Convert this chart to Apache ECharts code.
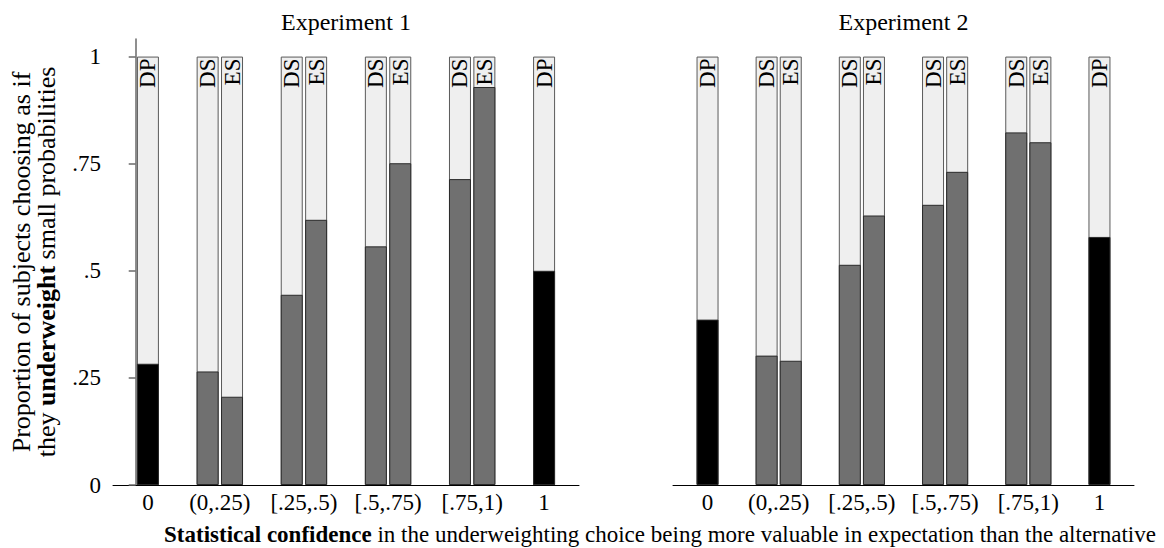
<!DOCTYPE html>
<html><head><meta charset="utf-8">
<script src="https://cdn.jsdelivr.net/npm/echarts@6/dist/echarts.min.js"></script>
<style>html,body{margin:0;padding:0;background:#fff}#c{width:1164px;height:548px}</style>
</head><body><div id="c"></div>
<script>
// ---- data ----
const categories = ['0', '(0,.25)', '[.25,.5)', '[.5,.75)', '[.75,1)', '1'];
const barCategory = [0, 1, 1, 2, 2, 3, 3, 4, 4, 5];
const barType = ['DP', 'DS', 'ES', 'DS', 'ES', 'DS', 'ES', 'DS', 'ES', 'DP'];
const exp1Values = [0.283, 0.265, 0.206, 0.444, 0.619, 0.557, 0.751, 0.714, 0.929, 0.500];
const exp2Values = [0.386, 0.302, 0.290, 0.514, 0.629, 0.654, 0.731, 0.823, 0.800, 0.579];
const totalShare = 1; // every bar is a share of all subjects (0..1)
const yTickValues = [0, 0.25, 0.5, 0.75, 1];
const yTickLabels = ['0', '.25', '.5', '.75', '1'];
const panelTitles = ['Experiment 1', 'Experiment 2'];
const yTitleLine1 = 'Proportion of subjects choosing as if';
const yTitleLine2 = ['they ', 'underweight', ' small probabilities'];
const xTitle = ['Statistical confidence', ' in the underweighting choice being more valuable in expectation than the alternative'];

// ---- layout helpers ----
const FONT = '"Liberation Serif", "Times New Roman", serif';
const SLOT = 0.145;
function barX(i) {
  const c = barCategory[i], t = barType[i];
  const side = t === 'DS' ? -1 : t === 'ES' ? 1 : (c === 0 ? 1 : -1);
  return c + side * SLOT;
}
const labelPos = categories.map((c, i) => i === 0 ? SLOT : (i === categories.length - 1 ? i - SLOT : i));

function xAxisFor(gi) {
  return {
    type: 'value', gridIndex: gi, min: -0.27, max: 5.27,
    axisLine: { show: true, onZero: false, lineStyle: { color: '#000', width: 1 } },
    axisTick: { show: false }, splitLine: { show: false },
    axisLabel: {
      customValues: labelPos,
      formatter: v => { const k = labelPos.findIndex(p => Math.abs(p - v) < 1e-6); return k >= 0 ? categories[k] : ''; },
      fontFamily: FONT, fontSize: 23, color: '#000', margin: 6
    }
  };
}
function yAxisFor(gi) {
  const shown = gi === 0;
  return {
    type: 'value', gridIndex: gi, min: 0, max: 1.041,
    axisLine: { show: shown, lineStyle: { color: '#6a6a6a', width: 1.5 } },
    axisTick: { show: shown, length: 7, customValues: yTickValues, lineStyle: { color: '#6a6a6a', width: 1.5 } },
    splitLine: { show: false },
    axisLabel: {
      show: shown, customValues: yTickValues,
      formatter: v => { const k = yTickValues.findIndex(p => Math.abs(p - v) < 1e-6); return k >= 0 ? yTickLabels[k] : ''; },
      fontFamily: FONT, fontSize: 23, color: '#000', margin: 12
    }
  };
}
function panelSeries(values, gi) {
  const full = values.map((v, i) => ({ value: [barX(i), totalShare] }));
  const dark = values.map((v, i) => ({ value: [barX(i), v], itemStyle: { color: barType[i] === 'DP' ? '#000' : '#707070' } }));
  return [
    { type: 'bar', xAxisIndex: gi, yAxisIndex: gi, barWidth: 22, barGap: '-100%', data: full, z: 2,
      itemStyle: { color: '#efefef', borderColor: '#5a5a5a', borderWidth: 1 }, silent: true,
      label: { show: true, position: 'insideTop', rotate: 90, align: 'right', verticalAlign: 'middle', distance: 2,
        formatter: p => barType[p.dataIndex], fontFamily: FONT, fontSize: 23, color: '#000' } },
    { type: 'bar', xAxisIndex: gi, yAxisIndex: gi, barWidth: 22, barGap: '-100%', data: dark, z: 3,
      itemStyle: { borderColor: '#2a2a2a', borderWidth: 1 }, silent: true }
  ];
}

const grids = [
  { left: 113, width: 466, top: 39, bottom: 63 },
  { left: 673, width: 461, top: 39, bottom: 63 }
];

const chart = echarts.init(document.getElementById('c'), null, { renderer: 'svg' });
chart.setOption({
  animation: false,
  grid: grids,
  xAxis: [xAxisFor(0), xAxisFor(1)],
  yAxis: [yAxisFor(0), yAxisFor(1)],
  series: [...panelSeries(exp1Values, 0), ...panelSeries(exp2Values, 1)],
  graphic: [
    { type: 'text', x: 346, y: 21.5, style: { text: panelTitles[0], align: 'center', verticalAlign: 'middle', fill: '#000', font: '24px ' + FONT } },
    { type: 'text', x: 903.5, y: 21.5, style: { text: panelTitles[1], align: 'center', verticalAlign: 'middle', fill: '#000', font: '24px ' + FONT } },
    { type: 'text', x: 21, y: 262, rotation: Math.PI / 2,
      style: { text: yTitleLine1, align: 'center', verticalAlign: 'middle', fill: '#000', fontFamily: FONT, fontSize: 26 } },
    { type: 'text', x: 46, y: 262, rotation: Math.PI / 2,
      style: { text: yTitleLine2[0] + '{b|' + yTitleLine2[1] + '}' + yTitleLine2[2], align: 'center', verticalAlign: 'middle', fill: '#000', fontFamily: FONT, fontSize: 26,
        rich: { b: { fontWeight: 'bold', fontFamily: FONT, fontSize: 26, fill: '#000' } } } },
    { type: 'text', x: 660, y: 534,
      style: { text: '{b|' + xTitle[0] + '}' + xTitle[1], align: 'center', verticalAlign: 'middle', fill: '#000', fontFamily: FONT, fontSize: 23,
        rich: { b: { fontWeight: 'bold', fontFamily: FONT, fontSize: 23, fill: '#000' } } } }
  ]
});
</script></body></html>
